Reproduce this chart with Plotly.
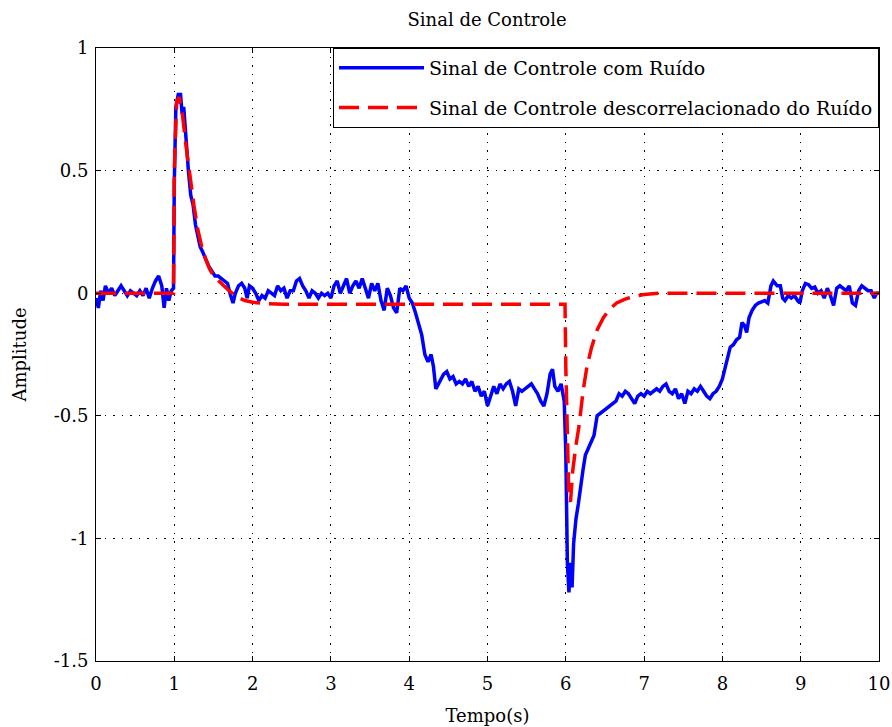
import plotly.graph_objects as go

# Blue: control signal with noise (time, amplitude)
t_noisy = [0.00, 0.03, 0.06, 0.09, 0.12, 0.16, 0.20, 0.24, 0.28, 0.32, 0.36, 0.40, 0.44, 0.48,
           0.52, 0.56, 0.60, 0.64, 0.68, 0.72, 0.76, 0.80, 0.84, 0.87, 0.90, 0.93, 0.96, 0.99,
           1.00, 1.02, 1.05, 1.08, 1.10, 1.12, 1.15, 1.18, 1.21, 1.24, 1.27, 1.30, 1.33, 1.36,
           1.40, 1.44, 1.48, 1.52, 1.56, 1.60, 1.64, 1.68, 1.72, 1.75, 1.78, 1.82, 1.86, 1.90,
           1.93, 1.96, 2.00, 2.04, 2.08, 2.12, 2.16, 2.20, 2.24, 2.28, 2.32, 2.36, 2.40, 2.44,
           2.48, 2.52, 2.56, 2.60, 2.64, 2.68, 2.72, 2.76, 2.80, 2.84, 2.88, 2.92, 2.96, 3.00,
           3.04, 3.08, 3.12, 3.16, 3.20, 3.24, 3.28, 3.32, 3.36, 3.40, 3.44, 3.48, 3.52, 3.56,
           3.60, 3.64, 3.68, 3.72, 3.76, 3.80, 3.84, 3.88, 3.92, 3.96, 4.00, 4.04, 4.08, 4.12,
           4.16, 4.20, 4.24, 4.28, 4.31, 4.34, 4.37, 4.40, 4.44, 4.48, 4.52, 4.56, 4.60, 4.64,
           4.68, 4.72, 4.76, 4.80, 4.84, 4.88, 4.92, 4.96, 5.00, 5.04, 5.08, 5.12, 5.16, 5.20,
           5.24, 5.28, 5.32, 5.36, 5.40, 5.44, 5.48, 5.52, 5.56, 5.60, 5.64, 5.68, 5.72, 5.76,
           5.80, 5.83, 5.86, 5.90, 5.94, 5.98, 6.00, 6.02, 6.04, 6.06, 6.08, 6.10, 6.13, 6.16,
           6.19, 6.22, 6.25, 6.28, 6.32, 6.36, 6.40, 6.44, 6.48, 6.52, 6.56, 6.60, 6.64, 6.68,
           6.72, 6.76, 6.80, 6.84, 6.88, 6.92, 6.96, 7.00, 7.04, 7.08, 7.12, 7.16, 7.20, 7.24,
           7.28, 7.32, 7.36, 7.40, 7.44, 7.48, 7.52, 7.56, 7.60, 7.64, 7.68, 7.72, 7.76, 7.80,
           7.84, 7.88, 7.92, 7.96, 8.00, 8.04, 8.07, 8.10, 8.14, 8.18, 8.22, 8.25, 8.28, 8.31,
           8.34, 8.38, 8.42, 8.46, 8.50, 8.54, 8.58, 8.62, 8.65, 8.70, 8.74, 8.77, 8.80, 8.84,
           8.88, 8.92, 8.96, 8.99, 9.02, 9.06, 9.10, 9.14, 9.18, 9.22, 9.26, 9.30, 9.34, 9.38,
           9.42, 9.46, 9.50, 9.54, 9.58, 9.62, 9.66, 9.70, 9.74, 9.78, 9.82, 9.86, 9.90, 9.94,
           9.97, 10.00]
y_noisy = [-0.02, -0.06, 0.01, -0.03, 0.03, 0.00, 0.02, -0.01, 0.01, 0.03, 0.01, -0.01, 0.01, 0.00,
           -0.01, 0.01, -0.01, 0.02, -0.02, 0.02, 0.05, 0.07, 0.03, -0.06, 0.02, -0.03, 0.01, 0.02,
           0.45, 0.76, 0.81, 0.81, 0.73, 0.76, 0.62, 0.50, 0.40, 0.36, 0.28, 0.24, 0.19, 0.17,
           0.14, 0.11, 0.09, 0.07, 0.07, 0.06, 0.05, 0.04, -0.01, -0.04, 0.00, 0.03, 0.04, 0.02,
           -0.02, 0.03, 0.02, 0.00, -0.03, -0.01, -0.02, 0.01, 0.00, -0.01, 0.03, 0.01, 0.02, -0.02,
           0.01, 0.01, 0.05, 0.06, 0.03, 0.01, -0.02, 0.01, 0.00, -0.02, 0.00, -0.01, 0.00, -0.02,
           0.03, 0.05, 0.00, 0.03, 0.06, 0.00, 0.03, 0.05, 0.02, 0.06, 0.02, -0.02, 0.04, 0.01,
           0.04, -0.03, -0.07, 0.02, -0.01, -0.06, -0.08, 0.02, 0.01, 0.03, -0.02, -0.04, -0.08, -0.12,
           -0.17, -0.25, -0.28, -0.25, -0.30, -0.39, -0.37, -0.35, -0.33, -0.32, -0.35, -0.34, -0.37, -0.36,
           -0.37, -0.35, -0.38, -0.36, -0.40, -0.38, -0.42, -0.40, -0.46, -0.42, -0.38, -0.41, -0.37, -0.39,
           -0.37, -0.36, -0.40, -0.46, -0.39, -0.40, -0.39, -0.38, -0.37, -0.39, -0.41, -0.44, -0.46, -0.41,
           -0.33, -0.31, -0.38, -0.40, -0.37, -0.44, -0.65, -1.10, -1.22, -1.10, -1.20, -1.02, -0.92, -0.86,
           -0.78, -0.72, -0.66, -0.64, -0.61, -0.58, -0.50, -0.49, -0.48, -0.47, -0.46, -0.45, -0.44, -0.41,
           -0.42, -0.40, -0.41, -0.43, -0.45, -0.42, -0.41, -0.42, -0.40, -0.41, -0.40, -0.39, -0.40, -0.38,
           -0.37, -0.40, -0.41, -0.39, -0.43, -0.41, -0.45, -0.40, -0.41, -0.39, -0.40, -0.38, -0.40, -0.42,
           -0.43, -0.41, -0.40, -0.38, -0.35, -0.30, -0.25, -0.22, -0.21, -0.19, -0.18, -0.12, -0.13, -0.16,
           -0.10, -0.07, -0.05, -0.04, -0.035, -0.03, -0.04, 0.03, 0.05, 0.03, 0.03, -0.02, -0.03, -0.01,
           -0.02, -0.01, -0.03, -0.04, 0.01, 0.04, 0.035, 0.02, 0.025, 0.00, 0.01, -0.02, 0.02, -0.01,
           -0.05, 0.02, 0.03, 0.02, 0.01, 0.03, -0.04, -0.05, 0.01, 0.03, 0.02, 0.01, 0.01, -0.02,
           0.00, 0.00]

# Red: control signal decorrelated from noise
t_clean = [0.00, 0.99, 1.00, 1.03, 1.06, 1.10, 1.15, 1.20, 1.25, 1.30, 1.35, 1.40, 1.45, 1.50,
           1.60, 1.70, 1.80, 1.90, 2.00, 2.20, 2.40, 5.99, 6.00, 6.04, 6.06, 6.09, 6.13, 6.17,
           6.22, 6.27, 6.33, 6.40, 6.48, 6.56, 6.65, 6.75, 6.85, 7.00, 7.20, 10.00]
y_clean = [0.00, 0.00, 0.50, 0.78, 0.80, 0.74, 0.60, 0.47, 0.36, 0.26, 0.19, 0.14, 0.10, 0.07,
           0.04, 0.01, -0.015, -0.03, -0.037, -0.043, -0.045, -0.045, -0.30, -0.84, -0.85, -0.72, -0.62, -0.54,
           -0.40, -0.30, -0.22, -0.15, -0.10, -0.065, -0.04, -0.025, -0.015, -0.005, 0.00, 0.00]

x_ticks = [0, 1, 2, 3, 4, 5, 6, 7, 8, 9, 10]
y_ticks = [-1.5, -1, -0.5, 0, 0.5, 1]
y_tick_text = ["-1.5", "-1", "-0.5", "0", "0.5", "1"]

FONT = "DejaVu Serif"

fig = go.Figure()
fig.add_trace(go.Scatter(x=t_noisy, y=y_noisy, mode="lines",
                         name="Sinal de Controle com Ruído", legendgroup="a",
                         line=dict(color="#0000ff", width=3.5)))
fig.add_trace(go.Scatter(x=t_clean, y=y_clean, mode="lines",
                         name="Sinal de Controle descorrelacionado do Ruído", legendgroup="b",
                         line=dict(color="#ff0000", width=3.5, dash="20px,9px")))

axis_common = dict(showline=True, linecolor="black", linewidth=1, mirror="ticks",
                   ticks="inside", ticklen=5, tickcolor="black", automargin=False,
                   showgrid=True, gridcolor="black", gridwidth=1, griddash="1.5px,7px",
                   zeroline=False, tickfont=dict(family=FONT, size=18, color="black"))

fig.update_xaxes(range=[0, 10], tickvals=x_ticks, ticklabelstandoff=6, **axis_common,
                 title=dict(text="Tempo(s)", font=dict(family=FONT, size=18, color="black"), standoff=16))
fig.update_yaxes(range=[-1.5, 1], tickvals=y_ticks, ticktext=y_tick_text, ticklabelstandoff=3, **axis_common,
                 title=dict(text="Amplitude", font=dict(family=FONT, size=18, color="black"), standoff=22))

fig.update_layout(
    width=892, height=727,
    margin=dict(l=96, r=13, t=48, b=66),
    paper_bgcolor="white", plot_bgcolor="white",
    font=dict(family=FONT, size=18, color="black"),
    title=dict(text="Sinal de Controle", x=0.546, xanchor="center", y=1 - 20 / 727, yanchor="middle",
               font=dict(family=FONT, size=18, color="black")),
    legend=dict(x=1, xanchor="right", y=1, yanchor="top", bgcolor="white",
                bordercolor="black", borderwidth=1, itemwidth=85,
                traceorder="grouped", tracegroupgap=12,
                font=dict(family=FONT, size=19, color="black")),
    showlegend=True,
)

fig.write_html("out.html")
